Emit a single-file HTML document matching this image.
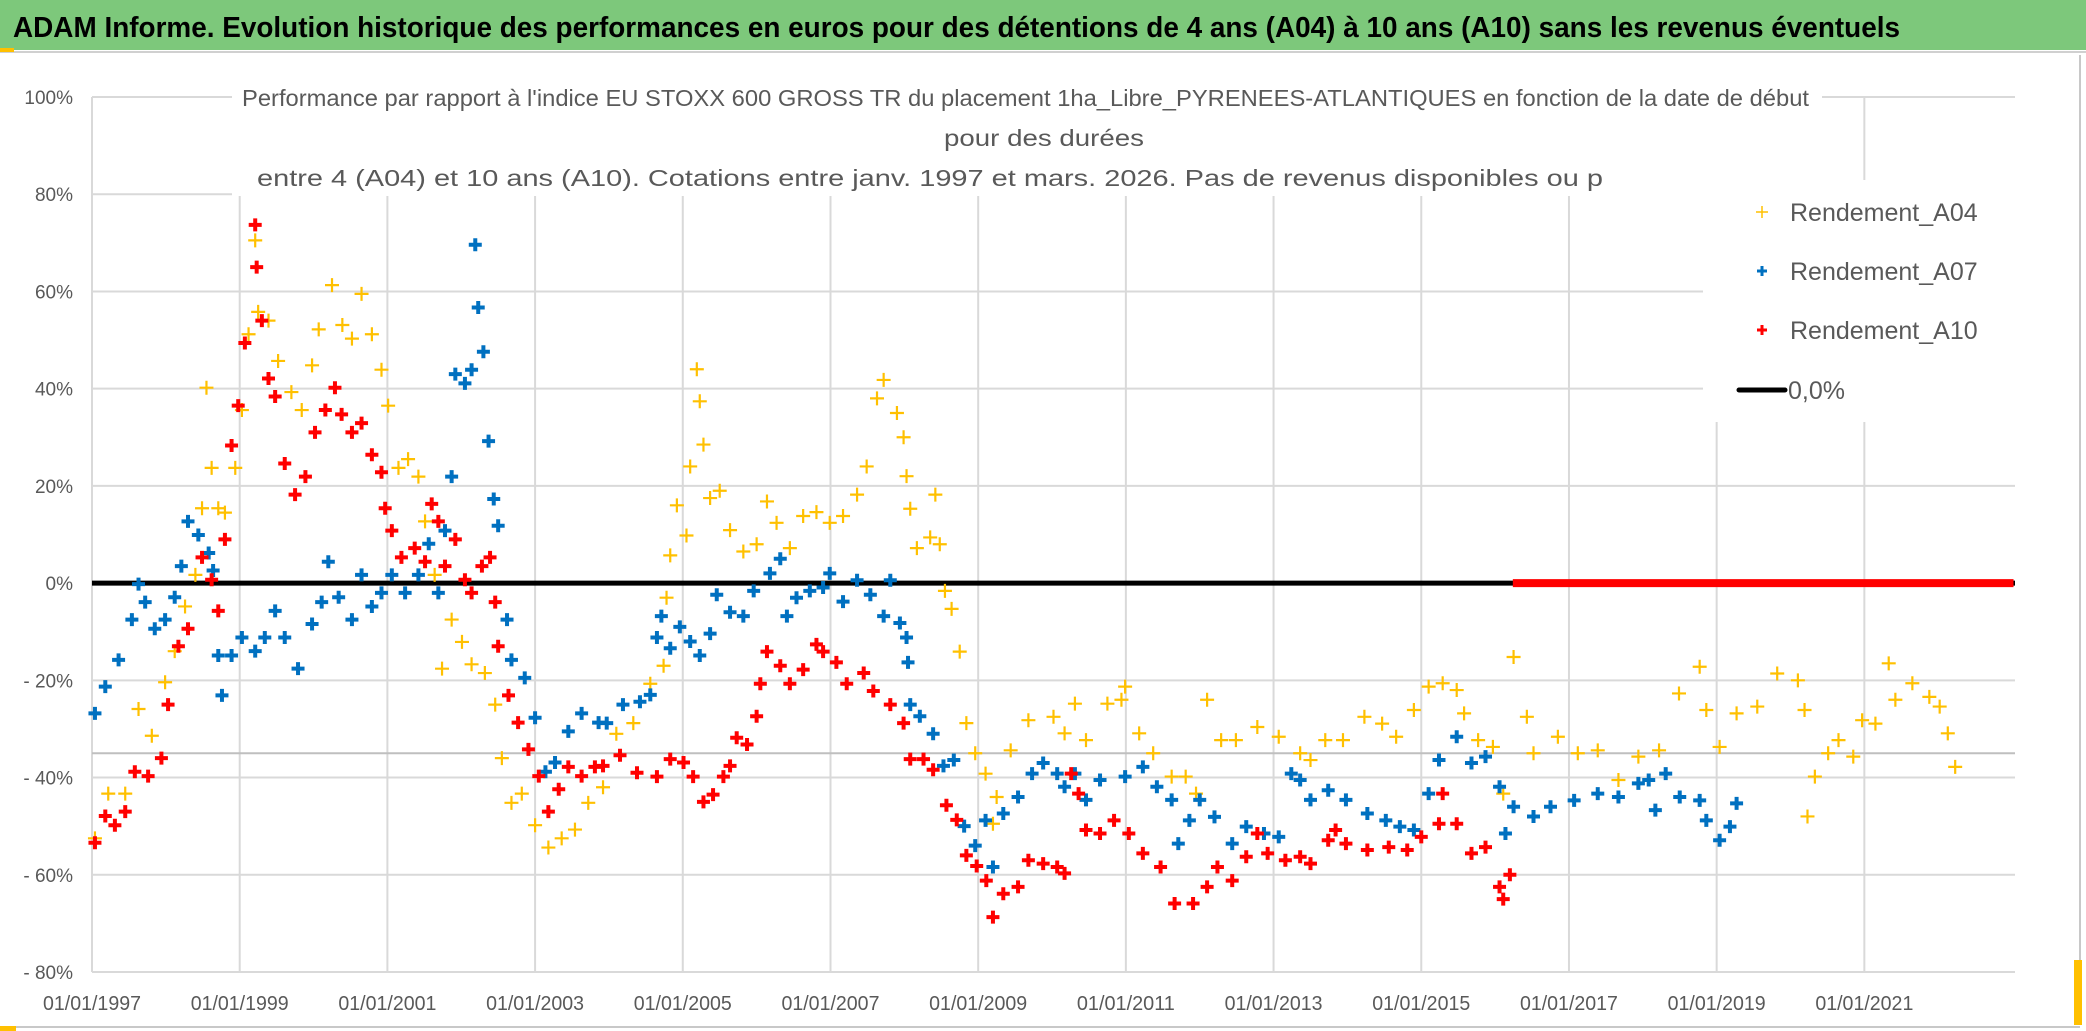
<!DOCTYPE html>
<html><head><meta charset="utf-8">
<style>
html,body{margin:0;padding:0;background:#fff;}
svg{display:block;}
text{font-family:"Liberation Sans",sans-serif;}
</style></head>
<body>
<svg id="chart" width="2086" height="1031" viewBox="0 0 2086 1031" xmlns="http://www.w3.org/2000/svg">
<rect x="0" y="0" width="2086" height="1031" fill="#fff"/>
<rect x="0" y="0" width="2086" height="50" fill="#7dc87b"/>
<line x1="0" y1="52" x2="2086" y2="52" stroke="#d0d0d0" stroke-width="2"/>
<rect x="0" y="48" width="14" height="4" fill="#ffc000"/>
<text x="13" y="37" font-size="29" font-weight="bold" fill="#000" textLength="1887" lengthAdjust="spacingAndGlyphs">ADAM Informe. Evolution historique des performances en euros pour des détentions de 4 ans (A04) à 10 ans (A10) sans les revenus éventuels</text>
<line x1="2080" y1="55" x2="2080" y2="1025" stroke="#c8c8c8" stroke-width="2"/>
<line x1="0" y1="1027" x2="2080" y2="1027" stroke="#c8c8c8" stroke-width="2"/>
<rect x="2074" y="960" width="8" height="65" fill="#ffc000"/>
<rect x="0" y="1026" width="16" height="5" fill="#ffc000"/>
<g id="grid"></g>
<g id="marks"></g>
<g id="axes"></g>
<rect x="232" y="78" width="1590" height="118" fill="#fff"/>
<text x="242" y="106" font-size="23" fill="#595959" textLength="1567" lengthAdjust="spacingAndGlyphs">Performance par rapport à l'indice EU STOXX 600 GROSS TR  du placement 1ha_Libre_PYRENEES-ATLANTIQUES en fonction de la date de début</text>
<text x="1044" y="146" font-size="23" fill="#595959" text-anchor="middle" textLength="200" lengthAdjust="spacingAndGlyphs">pour des durées</text>
<text x="257" y="186" font-size="23" fill="#595959" textLength="1346" lengthAdjust="spacingAndGlyphs">entre 4 (A04) et 10 ans (A10). Cotations entre janv. 1997 et mars. 2026. Pas de revenus disponibles ou p</text>
<g>
<rect x="1703" y="180" width="372" height="242" fill="#fff"/>
<g>
<path d="M1756 212h12M1762 206v12" stroke="#ffc000" stroke-width="1.5"/>
<text x="1790" y="221" font-size="25" fill="#595959">Rendement_A04</text></g>
<g>
<path d="M1757 271h10M1762 266v10" stroke="#0070c0" stroke-width="3"/>
<text x="1790" y="280" font-size="25" fill="#595959">Rendement_A07</text></g>
<g>
<path d="M1757 330h10M1762 325v10" stroke="#ff0000" stroke-width="3"/>
<text x="1790" y="339" font-size="25" fill="#595959">Rendement_A10</text></g>
<g>
<line x1="1739" y1="390" x2="1785" y2="390" stroke="#000" stroke-width="5" stroke-linecap="round"/>
<text x="1788" y="399" font-size="25" fill="#595959">0,0%</text></g>
</g>
</svg>
<script>
const yTicks = [100, 80, 60, 40, 20, 0, -20, -40, -60, -80];
const yTickLabels = ["100%","80%","60%","40%","20%","0%","- 20%","- 40%","- 60%","- 80%"];
const xTicks = [1997,1999,2001,2003,2005,2007,2009,2011,2013,2015,2017,2019,2021];
const xTickLabels = ["01/01/1997","01/01/1999","01/01/2001","01/01/2003","01/01/2005","01/01/2007","01/01/2009","01/01/2011","01/01/2013","01/01/2015","01/01/2017","01/01/2019","01/01/2021"];
const refLineValue = [-35];
const zeroLineValue = [0];
const zeroSeriesDates = [2016.24, 2023.02];
const zeroSeriesValue = [0];

const datesA04 = [1997.04,1997.22,1997.45,1997.63,1997.81,1997.99,1998.12,1998.26,1998.4,1998.49,1998.55,1998.62,1998.71,1998.8,1998.94,1999.03,1999.12,1999.21,1999.25,1999.39,1999.52,1999.7,1999.84,1999.98,2000.07,2000.25,2000.39,2000.52,2000.65,2000.79,2000.92,2001.01,2001.15,2001.28,2001.42,2001.51,2001.64,2001.74,2001.87,2002.01,2002.14,2002.32,2002.46,2002.55,2002.68,2002.82,2003.0,2003.18,2003.36,2003.54,2003.72,2003.92,2004.1,2004.33,2004.56,2004.74,2004.78,2004.83,2004.92,2005.05,2005.1,2005.19,2005.23,2005.28,2005.37,2005.5,2005.64,2005.82,2006.0,2006.14,2006.27,2006.45,2006.63,2006.81,2006.99,2007.17,2007.36,2007.49,2007.63,2007.72,2007.9,2007.99,2008.03,2008.08,2008.17,2008.35,2008.42,2008.48,2008.55,2008.64,2008.75,2008.84,2008.96,2009.1,2009.2,2009.25,2009.44,2009.68,2010.02,2010.17,2010.31,2010.46,2010.75,2010.94,2010.99,2011.18,2011.37,2011.62,2011.81,2011.95,2012.1,2012.29,2012.49,2012.78,2013.07,2013.36,2013.5,2013.7,2013.94,2014.23,2014.47,2014.66,2014.9,2015.1,2015.29,2015.48,2015.58,2015.77,2015.97,2016.11,2016.25,2016.43,2016.52,2016.85,2017.12,2017.39,2017.67,2017.94,2018.22,2018.49,2018.77,2018.86,2019.04,2019.27,2019.55,2019.82,2020.1,2020.19,2020.23,2020.33,2020.51,2020.65,2020.85,2020.97,2021.15,2021.33,2021.42,2021.65,2021.88,2022.02,2022.13,2022.23];
const valuesA04 = [-52.5,-43.3,-43.3,-25.9,-31.4,-20.4,-14,-4.8,1.7,15.4,40.2,23.7,15.4,14.5,23.7,35.6,51.2,70.5,55.8,54,45.7,39.3,35.6,44.8,52.2,61.3,53.1,50.3,59.5,51.2,43.9,36.5,23.7,25.5,21.9,12.7,1.7,-17.6,-7.5,-12.1,-16.7,-18.5,-25,-36,-45.2,-43.3,-49.8,-54.4,-52.5,-50.7,-45.2,-42,-31,-28.8,-20.7,-17,-3,5.7,16,9.8,24,44,37.4,28.5,17.5,19,10.9,6.5,8,16.8,12.4,7.2,13.8,14.6,12.4,13.8,18.2,24,38,41.8,35,30,22,15.3,7.2,9.4,18.2,8,-1.6,-5.3,-14.1,-28.8,-35,-39.2,-49.5,-44,-34.4,-28.2,-27.5,-30.9,-24.8,-32.3,-24.8,-24,-21.3,-30.9,-35,-39.8,-39.8,-43.3,-24,-32.3,-32.3,-29.6,-31.6,-35,-36.4,-32.3,-32.3,-27.5,-28.9,-31.6,-26.1,-21.3,-20.6,-22,-26.8,-32.3,-33.7,-43.3,-15.2,-27.5,-35,-31.6,-35,-34.4,-40.5,-35.7,-34.4,-22.7,-17.2,-26.1,-33.7,-26.8,-25.4,-18.6,-20,-26.1,-48,-39.8,-35,-32.3,-35.7,-28.2,-28.9,-16.5,-24,-20.6,-23.4,-25.4,-30.9,-37.8];

const datesA07 = [1997.04,1997.18,1997.36,1997.54,1997.63,1997.72,1997.85,1997.99,1998.12,1998.21,1998.3,1998.44,1998.58,1998.64,1998.71,1998.76,1998.89,1999.03,1999.21,1999.34,1999.48,1999.61,1999.79,1999.98,2000.11,2000.2,2000.34,2000.52,2000.65,2000.79,2000.92,2001.06,2001.24,2001.42,2001.56,2001.69,2001.78,2001.87,2001.92,2002.05,2002.14,2002.19,2002.23,2002.3,2002.37,2002.44,2002.5,2002.62,2002.68,2002.86,2003.0,2003.14,2003.27,2003.45,2003.63,2003.86,2003.97,2004.19,2004.42,2004.56,2004.65,2004.71,2004.83,2004.96,2005.1,2005.23,2005.37,2005.46,2005.64,2005.82,2005.96,2006.18,2006.32,2006.41,2006.54,2006.72,2006.9,2006.99,2007.17,2007.36,2007.54,2007.72,2007.81,2007.94,2008.03,2008.05,2008.08,2008.21,2008.39,2008.53,2008.67,2008.81,2008.96,2009.1,2009.2,2009.34,2009.54,2009.73,2009.88,2010.07,2010.17,2010.31,2010.46,2010.65,2010.99,2011.23,2011.42,2011.62,2011.71,2011.86,2012.0,2012.2,2012.44,2012.63,2012.87,2013.07,2013.24,2013.36,2013.5,2013.74,2013.98,2014.27,2014.52,2014.71,2014.9,2015.1,2015.24,2015.48,2015.68,2015.87,2016.06,2016.14,2016.25,2016.52,2016.75,2017.07,2017.39,2017.67,2017.94,2018.08,2018.17,2018.31,2018.5,2018.77,2018.86,2019.04,2019.18,2019.27];
const valuesA07 = [-26.8,-21.3,-15.8,-7.5,-0.2,-3.9,-9.4,-7.5,-2.9,3.5,12.7,9.9,6.2,2.6,-14.9,-23.1,-14.9,-11.2,-14,-11.2,-5.7,-11.2,-17.6,-8.4,-3.9,4.4,-2.9,-7.5,1.7,-4.8,-2,1.7,-2,1.7,8.1,-2,10.8,21.9,43,41.1,43.9,69.6,56.7,47.6,29.2,17.3,11.8,-7.5,-15.8,-19.5,-27.7,-38.8,-36.9,-30.5,-26.8,-28.7,-28.8,-25,-24.4,-23,-11.2,-6.8,-13.4,-9,-12,-14.9,-10.4,-2.4,-6,-6.8,-1.6,2,5,-6.8,-3,-1.6,-0.9,2,-3.8,0.6,-2.4,-6.8,0.6,-8.2,-11.2,-16.3,-25,-27.4,-31,-37.6,-36.4,-50,-54,-48.8,-58.4,-47.4,-44,-39.2,-37,-39.2,-41.9,-39.2,-44.6,-40.5,-39.8,-37.8,-41.9,-44.6,-53.6,-48.8,-44.6,-48.1,-53.6,-50.1,-51.5,-52.2,-39.2,-40.5,-44.6,-42.6,-44.6,-47.4,-48.8,-50.1,-50.8,-43.3,-36.4,-31.6,-37,-35.7,-41.9,-51.5,-46,-48,-46,-44.7,-43.3,-44,-41.2,-40.5,-46.7,-39.2,-44,-44.7,-48.8,-52.9,-50.1,-45.3];

const datesA10 = [1997.04,1997.18,1997.31,1997.45,1997.58,1997.76,1997.94,1998.03,1998.17,1998.3,1998.49,1998.62,1998.71,1998.8,1998.89,1998.98,1999.07,1999.21,1999.23,1999.3,1999.39,1999.48,1999.61,1999.75,1999.89,2000.02,2000.16,2000.29,2000.38,2000.52,2000.65,2000.79,2000.92,2000.97,2001.06,2001.19,2001.37,2001.51,2001.6,2001.69,2001.78,2001.92,2002.05,2002.14,2002.28,2002.39,2002.46,2002.5,2002.64,2002.77,2002.91,2003.05,2003.18,2003.32,2003.45,2003.63,2003.81,2003.92,2004.15,2004.38,2004.65,2004.83,2005.01,2005.14,2005.28,2005.41,2005.55,2005.64,2005.73,2005.87,2006.0,2006.05,2006.14,2006.32,2006.45,2006.63,2006.81,2006.9,2007.08,2007.22,2007.45,2007.58,2007.81,2007.99,2008.08,2008.26,2008.39,2008.57,2008.71,2008.84,2008.98,2009.11,2009.2,2009.34,2009.54,2009.68,2009.88,2010.07,2010.17,2010.26,2010.36,2010.46,2010.65,2010.84,2011.04,2011.23,2011.47,2011.66,2011.91,2012.1,2012.24,2012.44,2012.63,2012.78,2012.92,2013.16,2013.36,2013.5,2013.74,2013.84,2013.98,2014.27,2014.56,2014.81,2015.0,2015.24,2015.29,2015.48,2015.68,2015.87,2016.06,2016.11,2016.2];
const valuesA10 = [-53.4,-47.9,-49.8,-47,-38.8,-39.7,-36,-25,-13,-9.4,5.3,0.7,-5.7,9,28.3,36.5,49.4,73.7,65,54,42.1,38.4,24.6,18.2,21.9,31,35.6,40.2,34.7,31,32.9,26.4,22.8,15.4,10.8,5.3,7.2,4.4,16.3,12.7,3.5,9,0.7,-2,3.5,5.3,-3.9,-13,-23.1,-28.7,-34.2,-39.7,-47,-42.4,-37.8,-39.7,-37.8,-37.6,-35.4,-39,-39.8,-36.2,-36.9,-39.8,-45,-43.5,-39.8,-37.6,-31.8,-33.2,-27.4,-20.7,-14.1,-17,-20.7,-17.8,-12.6,-14.1,-16.3,-20.7,-18.5,-22.2,-25,-28.8,-36.2,-36.2,-38.4,-45.7,-48.7,-56,-58.2,-61.2,-68.7,-63.9,-62.5,-57,-57.7,-58.4,-59.7,-39.2,-43.3,-50.8,-51.5,-48.8,-51.5,-55.6,-58.4,-65.9,-65.9,-62.5,-58.4,-61.2,-56.3,-51.5,-55.6,-57,-56.3,-57.7,-52.9,-50.8,-53.6,-54.9,-54.3,-54.9,-52.2,-49.5,-43.3,-49.5,-55.6,-54.3,-62.5,-65,-60];

const NS = "http://www.w3.org/2000/svg";
const X0 = 92, X1 = 2015, YEAR0 = 1997, YEAR1 = 2023.04;
const Y0 = 97, Y1 = 972, VMAX = 100, VMIN = -80;
function xScale(yr){ return X0 + (yr - YEAR0) / (YEAR1 - YEAR0) * (X1 - X0); }
function yScale(v){ return Y0 + (VMAX - v) / (VMAX - VMIN) * (Y1 - Y0); }
function mk(tag, attrs, parent){
  const el = document.createElementNS(NS, tag);
  for (const k in attrs) el.setAttribute(k, attrs[k]);
  parent.appendChild(el);
  return el;
}
const grid = document.getElementById('grid');
const axes = document.getElementById('axes');
const marks = document.getElementById('marks');

yTicks.forEach((v, i) => {
  const y = yScale(v);
  const gl = mk('line', {x1: X0, y1: y, x2: X1, y2: y, stroke: '#d9d9d9', 'stroke-width': 2}, grid);
  
  
  const t = mk('text', {x: 73, y: y + 7, 'font-size': 19, fill: '#595959', 'text-anchor': 'end'}, axes);
  t.textContent = yTickLabels[i];
  
  
});
xTicks.forEach((yr, i) => {
  const x = xScale(yr);
  const gl = mk('line', {x1: x, y1: Y0, x2: x, y2: Y1, stroke: '#d9d9d9', 'stroke-width': 2}, grid);
  
  
  const t = mk('text', {x: x, y: 1010, 'font-size': 20, fill: '#595959', 'text-anchor': 'middle', textLength: 98, lengthAdjust: 'spacingAndGlyphs'}, axes);
  t.textContent = xTickLabels[i];
  
  
});
const rl = mk('line', {x1: X0, y1: yScale(refLineValue[0]), x2: X1, y2: yScale(refLineValue[0]), stroke: '#bfbfbf', 'stroke-width': 2}, grid);



const zl = mk('line', {x1: X0, y1: yScale(zeroLineValue[0]), x2: X1, y2: yScale(zeroLineValue[0]), stroke: '#000', 'stroke-width': 5}, marks);



function drawSeries(dates, vals, color, sw, size, name){
  const g = mk('g', {}, marks);
  
  
  for (let i = 0; i < dates.length; i++){
    const x = xScale(dates[i]), y = yScale(vals[i]);
    const p = mk('path', {d: `M${x-size} ${y}h${2*size}M${x} ${y-size}v${2*size}`, stroke: color, 'stroke-width': sw, fill: 'none'}, g);
    
    
  }
}
drawSeries(datesA04, valuesA04, '#ffc000', 2.2, 7, 'series-a04');
drawSeries(datesA07, valuesA07, '#0070c0', 4, 6.5, 'series-a07');
drawSeries(datesA10, valuesA10, '#ff0000', 4, 6.5, 'series-a10');

const zs = mk('line', {x1: xScale(zeroSeriesDates[0]), y1: yScale(zeroSeriesValue[0]), x2: xScale(zeroSeriesDates[1]), y2: yScale(zeroSeriesValue[0]), stroke: '#ff0000', 'stroke-width': 8}, marks);


</script>
</body></html>
